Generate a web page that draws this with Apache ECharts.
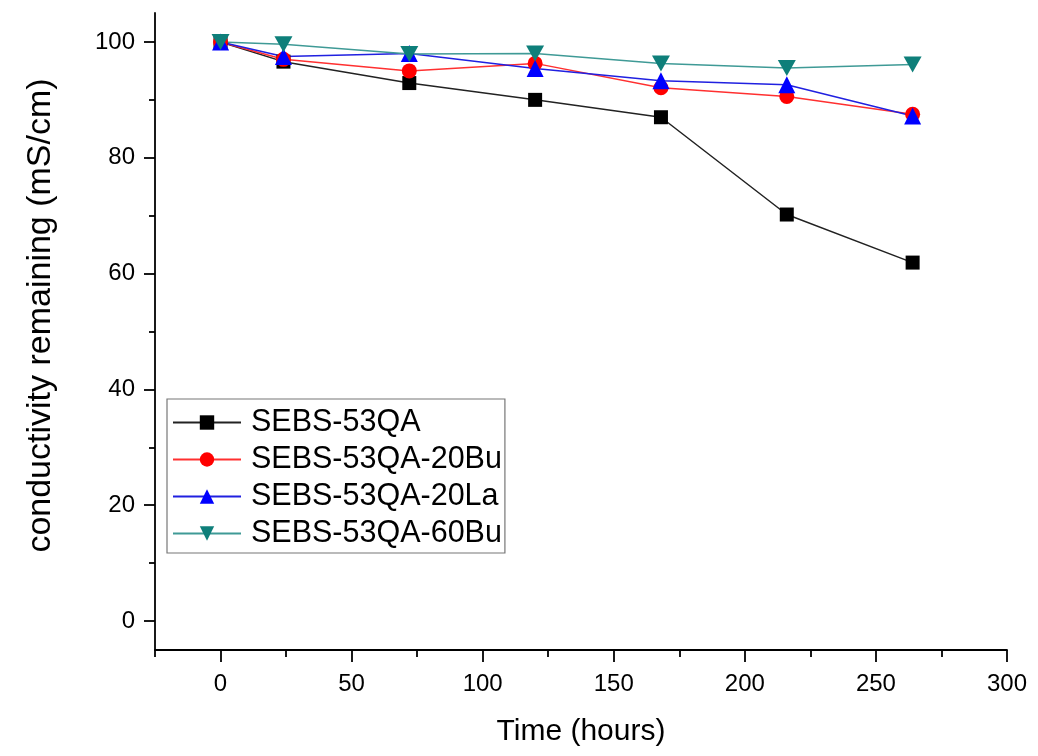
<!DOCTYPE html>
<html>
<head>
<meta charset="utf-8">
<script src="https://cdn.jsdelivr.net/npm/echarts@6/dist/echarts.min.js"></script>
<style>html,body{margin:0;padding:0;background:#fff;}#c{width:1038px;height:756px;}</style>
</head>
<body>
<div id="c"></div>
<script>
const hours = [0, 24, 72, 120, 168, 216, 264];
const seriesNames = ['SEBS-53QA', 'SEBS-53QA-20Bu', 'SEBS-53QA-20La', 'SEBS-53QA-60Bu'];
const sebs53QA = [100, 96.6, 92.9, 90.0, 87.0, 70.2, 61.9];
const sebs20Bu = [100, 97.0, 95.0, 96.3, 92.1, 90.6, 87.5];
const sebs20La = [100, 97.5, 98.0, 95.4, 93.3, 92.6, 87.2];
const sebs60Bu = [100, 99.6, 97.9, 98.0, 96.3, 95.5, 96.1];
const xMajorTicks = [0, 50, 100, 150, 200, 250, 300];
const xMinorTicks = [-25, 25, 75, 125, 175, 225, 275];
const yMajorTicks = [0, 20, 40, 60, 80, 100];
const yMinorTicks = [10, 30, 50, 70, 90];

const FONT = 'Liberation Sans, Arial, sans-serif';
const pair = (vals) => hours.map((h, i) => [h, vals[i]]);
const axisLine = { onZero: false, lineStyle: { color: '#000', width: 1.8 } };

const chart = echarts.init(document.getElementById('c'), null, { renderer: 'canvas' });
chart.setOption({
  backgroundColor: '#fff',
  animation: false,
  grid: { left: 155, top: 13, right: 31, bottom: 106 },
  legend: {
    orient: 'vertical',
    left: 167, top: 399,
    data: seriesNames,
    itemWidth: 68, itemHeight: 18, itemGap: 6,
    padding: [8, 3, 4, 5],
    borderColor: '#777', borderWidth: 1.2,
    textStyle: { fontFamily: FONT, fontSize: 30.5, color: '#000', lineHeight: 31, padding: [0, 0, 0, 5] }
  },
  xAxis: [{
    type: 'value', min: -25, max: 300, position: 'bottom',
    name: 'Time (hours)', nameLocation: 'middle', nameGap: 67,
    nameTextStyle: { fontFamily: FONT, fontSize: 30, color: '#000' },
    axisLine: axisLine,
    axisTick: { show: true, length: 12, lineStyle: { color: '#000', width: 1.8 }, customValues: xMajorTicks },
    axisLabel: { fontFamily: FONT, fontSize: 24, color: '#000', margin: 22, customValues: xMajorTicks },
    splitLine: { show: false }
  }, {
    type: 'value', min: -25, max: 300, position: 'bottom', gridIndex: 0,
    axisLine: { show: false, onZero: false },
    axisTick: { show: true, length: 7, lineStyle: { color: '#000', width: 1.8 }, customValues: xMinorTicks },
    axisLabel: { show: false },
    splitLine: { show: false }
  }],
  yAxis: [{
    type: 'value', min: -5, max: 105, position: 'left',
    name: 'conductivity remaining (mS/cm)', nameLocation: 'middle', nameGap: 97,
    nameTextStyle: { fontFamily: FONT, fontSize: 34, color: '#000', padding: [0, 0, 0, 32] },
    axisLine: axisLine,
    axisTick: { show: true, length: 11, lineStyle: { color: '#000', width: 1.8 }, customValues: yMajorTicks },
    axisLabel: { fontFamily: FONT, fontSize: 24, color: '#000', margin: 20, customValues: yMajorTicks },
    splitLine: { show: false }
  }, {
    type: 'value', min: -5, max: 105, position: 'left', gridIndex: 0,
    axisLine: { show: false, onZero: false },
    axisTick: { show: true, length: 6, lineStyle: { color: '#000', width: 1.8 }, customValues: yMinorTicks },
    axisLabel: { show: false },
    splitLine: { show: false }
  }],
  series: [
    { name: seriesNames[0], type: 'line', data: pair(sebs53QA), symbol: 'rect', symbolSize: 14,
      itemStyle: { color: '#000' }, lineStyle: { color: '#222', width: 1.5 } },
    { name: seriesNames[1], type: 'line', data: pair(sebs20Bu), symbol: 'circle', symbolSize: 15,
      itemStyle: { color: '#ff0000' }, lineStyle: { color: '#ff3030', width: 1.5 } },
    { name: seriesNames[2], type: 'line', data: pair(sebs20La), symbol: 'triangle', symbolSize: 17,
      itemStyle: { color: '#0000ff' }, lineStyle: { color: '#2020e0', width: 1.5 } },
    { name: seriesNames[3], type: 'line', data: pair(sebs60Bu), symbol: 'path://M0,0 L10,0 L5,9 Z', symbolSize: [18, 16],
      itemStyle: { color: '#0e7f7a' }, lineStyle: { color: '#3f9a96', width: 1.5 } }
  ]
});
</script>
</body>
</html>
